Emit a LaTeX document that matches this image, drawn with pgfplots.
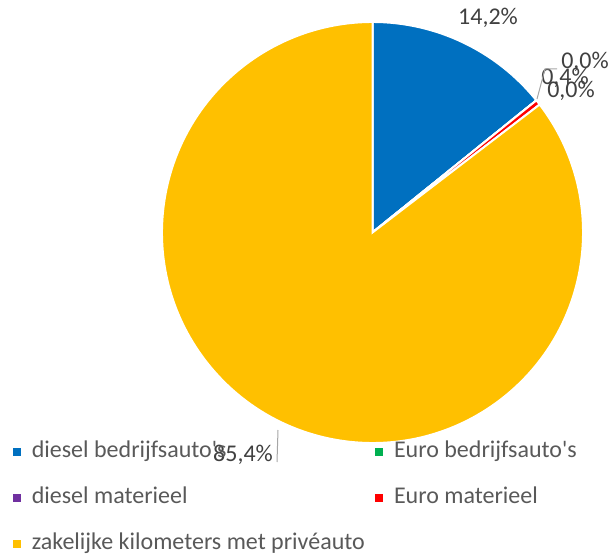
\documentclass[border=0pt]{standalone}
\usepackage{pgfplots}
\pgfplotsset{compat=1.18}
\usepackage{fontspec}
\setmainfont{Carlito}

\definecolor{cBlue}{HTML}{0070C0}
\definecolor{cGreen}{HTML}{00B050}
\definecolor{cPurple}{HTML}{7030A0}
\definecolor{cRed}{HTML}{FF0000}
\definecolor{cYellow}{HTML}{FFC000}
\definecolor{txt}{HTML}{595959}
\definecolor{lbl}{HTML}{404040}
\definecolor{leader}{HTML}{A6A6A6}

% share per category (percent), in drawing order, clockwise from 12 o'clock
\newcommand\piedata{14.2/cBlue, 0.0/cGreen, 0.0/cPurple, 0.4/cRed, 85.4/cYellow}

\begin{document}
\begin{tikzpicture}
\begin{axis}[
  scale only axis, width=457.5pt, height=415.5pt,
  xmin=0, xmax=610, ymin=0, ymax=554,
  hide axis, clip=false,
  legend columns=2,
  legend image code/.code={\fill[#1] (0pt,-2.6pt) rectangle (5.2pt,2.6pt);
    \path (11.5pt,0pt);},
  legend style={draw=none, fill=none, inner sep=0pt,
    at={(axis cs:13,116.5)}, anchor=north west,
    font=\fontsize{18}{22}\selectfont, text=txt,
    nodes={text height=13pt, text depth=4pt, inner sep=2pt},
    row sep=13.5pt,
    /tikz/every even column/.append style={column sep=6pt}},
  legend cell align=left,
]
\coordinate (ll) at (axis cs:0,0);
\coordinate (ur) at (axis cs:610,554);
\def\cumangle{90}
\foreach \v/\c in \piedata {
  \pgfmathsetmacro\endangle{\cumangle-3.6*\v}
  \edef\tmp{\noexpand\fill[\c, draw=white, line width=1.5pt]
    (axis cs:372.5,321.5) -- ++(\cumangle:157.9pt)
    arc[start angle=\cumangle, end angle=\endangle, radius=157.9pt] -- cycle;}
  \tmp
  \xdef\cumangle{\endangle}
}

% data labels
\begin{scope}[font=\fontsize{18}{22}\selectfont, text=lbl]
\node at (axis cs:488,536) {14,2\%};
\node at (axis cs:585,492) {0,0\%};
\node at (axis cs:565,476) {0,4\%};
\node at (axis cs:571,463) {0,0\%};
\node at (axis cs:243,99) {85,4\%};
\end{scope}
\draw[leader, line width=0.75pt] (axis cs:537,455) -- (axis cs:545,485) -- (axis cs:557,485);
\draw[leader, line width=0.75pt] (axis cs:278,124) -- (axis cs:277,92);

\addlegendimage{cBlue}
\addlegendimage{cGreen}
\addlegendimage{cPurple}
\addlegendimage{cRed}
\addlegendimage{cYellow}
\legend{diesel bedrijfsauto\textquotesingle s, Euro bedrijfsauto\textquotesingle s,
  diesel materieel, Euro materieel, zakelijke kilometers met privéauto}
\end{axis}
\pgfresetboundingbox
\path (ll) rectangle (ur);
\end{tikzpicture}
\end{document}
